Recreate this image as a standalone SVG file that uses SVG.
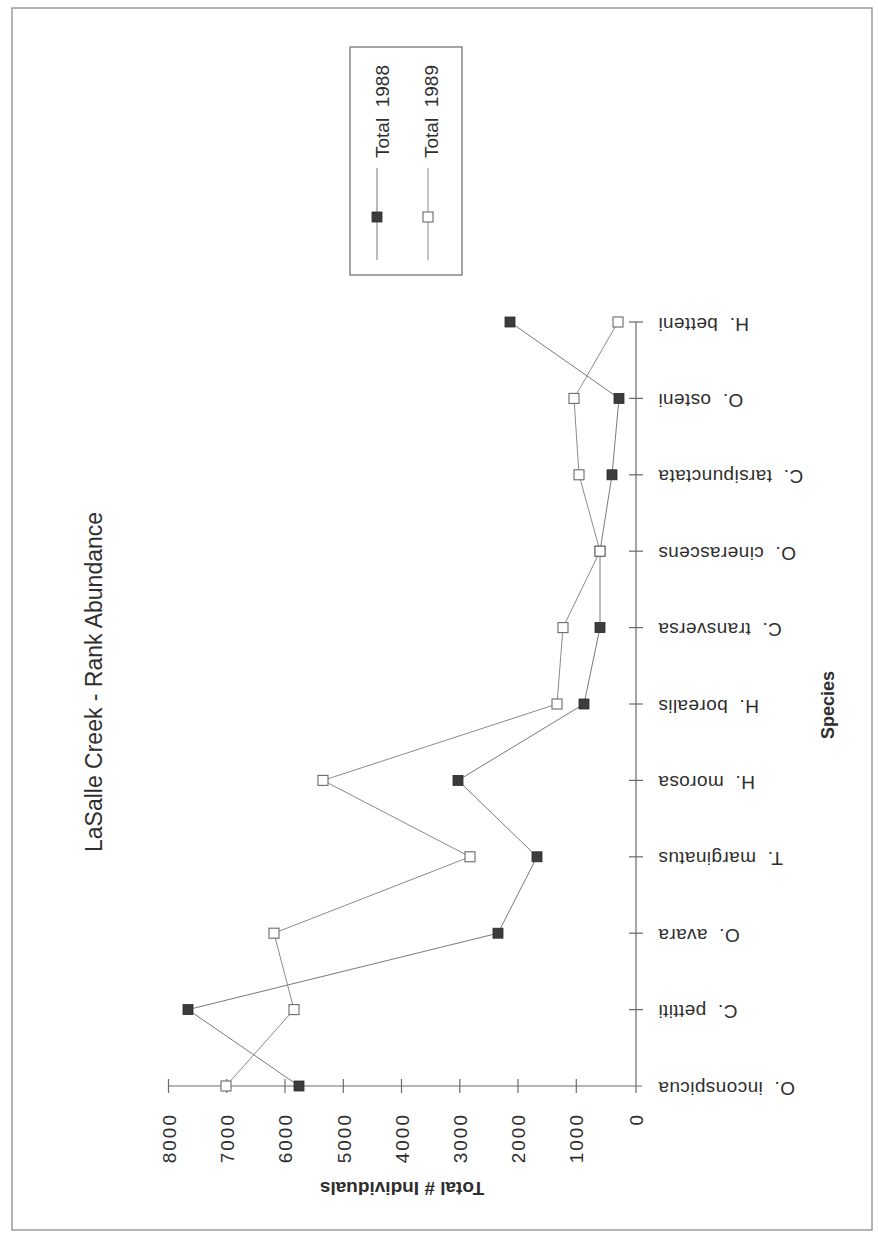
<svg xmlns="http://www.w3.org/2000/svg" width="878" height="1238" viewBox="0 0 878 1238" xml:space="preserve">
<style>
text{font-family:"Liberation Sans",Arial,sans-serif;fill:#2e2e2e;white-space:pre}
.sp{font-size:19px;letter-spacing:0.4px}
.tk{font-size:19px;letter-spacing:2px}
.ax{stroke:#6a6a6a;stroke-width:1.2;fill:none}
.s88{stroke:#7a7a7a;stroke-width:1;fill:none}
.s89{stroke:#8a8a8a;stroke-width:1;fill:none}
.f{fill:#3c3c3c;stroke:#2a2a2a;stroke-width:0.8}
.o{fill:#fff;stroke:#6a6a6a;stroke-width:1.1}
</style>
<defs>
<rect id="mk" x="-5" y="-5" width="10" height="10"/>
</defs>
<rect x="0" y="0" width="878" height="1238" fill="#fff"/>
<rect x="12" y="8" width="860" height="1222" fill="none" stroke="#9a9a9a" stroke-width="1.5"/>

<g id="title">
<text transform="translate(102,682) rotate(-90)" text-anchor="middle" font-size="23">LaSalle Creek - Rank Abundance</text>
</g>

<g id="legend">
<rect x="350" y="47" width="112" height="228" fill="none" stroke="#6a6a6a" stroke-width="1.2"/>
<line x1="377" y1="168" x2="377" y2="260" class="s88"/>
<use href="#mk" x="377" y="217" class="f"/>
<text transform="translate(389,158) rotate(-90)" font-size="19">Total  1988</text>
<line x1="428" y1="168" x2="428" y2="260" class="s89"/>
<use href="#mk" x="428" y="217" class="o"/>
<text transform="translate(438,158) rotate(-90)" font-size="19">Total  1989</text>
</g>

<g id="axes">
<line x1="168" y1="1086" x2="642" y2="1086" class="ax"/>
<line x1="636" y1="322" x2="636" y2="1093" class="ax"/>
<g class="ax">
<line x1="168.5" y1="1079" x2="168.5" y2="1093"/>
<line x1="226.8" y1="1079" x2="226.8" y2="1093"/>
<line x1="285" y1="1079" x2="285" y2="1093"/>
<line x1="343.3" y1="1079" x2="343.3" y2="1093"/>
<line x1="401.5" y1="1079" x2="401.5" y2="1093"/>
<line x1="459.8" y1="1079" x2="459.8" y2="1093"/>
<line x1="518" y1="1079" x2="518" y2="1093"/>
<line x1="576.3" y1="1079" x2="576.3" y2="1093"/>
<line x1="629" y1="1009.6" x2="643" y2="1009.6"/>
<line x1="629" y1="933.2" x2="643" y2="933.2"/>
<line x1="629" y1="856.8" x2="643" y2="856.8"/>
<line x1="629" y1="780.4" x2="643" y2="780.4"/>
<line x1="629" y1="704" x2="643" y2="704"/>
<line x1="629" y1="627.6" x2="643" y2="627.6"/>
<line x1="629" y1="551.2" x2="643" y2="551.2"/>
<line x1="629" y1="474.8" x2="643" y2="474.8"/>
<line x1="629" y1="398.4" x2="643" y2="398.4"/>
<line x1="629" y1="322" x2="643" y2="322"/>
</g>
<g class="tk" text-anchor="end">
<text transform="translate(176,1113) rotate(-90)">8000</text>
<text transform="translate(234,1113) rotate(-90)">7000</text>
<text transform="translate(292,1113) rotate(-90)">6000</text>
<text transform="translate(351,1113) rotate(-90)">5000</text>
<text transform="translate(409,1113) rotate(-90)">4000</text>
<text transform="translate(467,1113) rotate(-90)">3000</text>
<text transform="translate(525,1113) rotate(-90)">2000</text>
<text transform="translate(583,1113) rotate(-90)">1000</text>
<text transform="translate(643,1113) rotate(-90)">0</text>
</g>
<text transform="translate(402,1182) rotate(180)" text-anchor="middle" font-size="19" font-weight="bold">Total # Individuals</text>
<g class="sp" text-anchor="end">
<text transform="translate(658,1082) rotate(180)">O.  inconspicua</text>
<text transform="translate(658,1005) rotate(180)">C.  pettiti</text>
<text transform="translate(658,929) rotate(180)">O.  avara</text>
<text transform="translate(658,852) rotate(180)">T.  marginatus</text>
<text transform="translate(658,776) rotate(180)">H.  morosa</text>
<text transform="translate(658,700) rotate(180)">H.  borealis</text>
<text transform="translate(658,623) rotate(180)">C.  transversa</text>
<text transform="translate(658,547) rotate(180)">O.  cinerascens</text>
<text transform="translate(658,470) rotate(180)">C.  tarsipunctata</text>
<text transform="translate(658,394) rotate(180)">O.  osteni</text>
<text transform="translate(658,318) rotate(180)">H.  betteni</text>
</g>
<text transform="translate(834,705) rotate(-90)" text-anchor="middle" font-size="18" font-weight="bold">Species</text>
</g>

<g id="connectors">
<polyline class="s88" points="299,1086 188,1009.6 498,933.2 537,856.8 458,780.4 584,704 600,627.6 600,551.2 612,474.8 619,398.4 510,322"/>
<polyline class="s89" points="226,1086 294,1009.6 274,933.2 470,856.8 323,780.4 557,704 563,627.6 600,551.2 579,474.8 574,398.4 618,322"/>
</g>

<g id="series-1988" class="f">
<use href="#mk" x="299" y="1086"/>
<use href="#mk" x="188" y="1009.6"/>
<use href="#mk" x="498" y="933.2"/>
<use href="#mk" x="537" y="856.8"/>
<use href="#mk" x="458" y="780.4"/>
<use href="#mk" x="584" y="704"/>
<use href="#mk" x="600" y="627.6"/>
<use href="#mk" x="600" y="551.2"/>
<use href="#mk" x="612" y="474.8"/>
<use href="#mk" x="619" y="398.4"/>
<use href="#mk" x="510" y="322"/>
</g>
<g id="series-1989" class="o">
<use href="#mk" x="226" y="1086"/>
<use href="#mk" x="294" y="1009.6"/>
<use href="#mk" x="274" y="933.2"/>
<use href="#mk" x="470" y="856.8"/>
<use href="#mk" x="323" y="780.4"/>
<use href="#mk" x="557" y="704"/>
<use href="#mk" x="563" y="627.6"/>
<use href="#mk" x="600" y="551.2"/>
<use href="#mk" x="579" y="474.8"/>
<use href="#mk" x="574" y="398.4"/>
<use href="#mk" x="618" y="322"/>
</g>
</svg>
